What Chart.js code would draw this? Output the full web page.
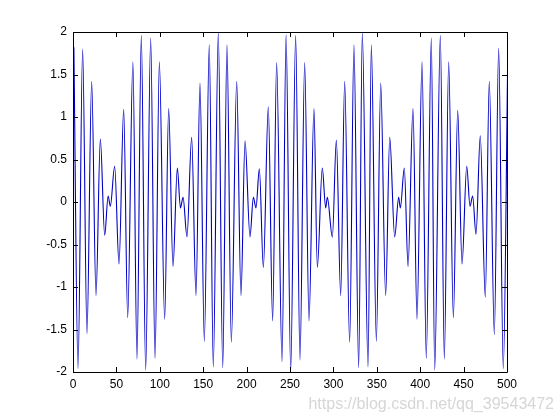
<!DOCTYPE html>
<html>
<head>
<meta charset="utf-8">
<script src="https://cdn.jsdelivr.net/npm/chart.js@4"></script>
<style>
  html, body { margin: 0; padding: 0; background: #fff; }
</style>
</head>
<body>
<canvas id="chart" width="560" height="420"></canvas>
<script>
// turning points of the trace
const turnX = [1, 5.8, 11.1, 16.1, 21.5, 26.5, 31.5, 36.5, 40.5, 43,
  48, 53, 58.4, 63, 69, 73.7, 78.7, 83.7, 89.5, 94.5,
  99.5, 105.6, 110.2, 115.2, 120.2, 123.8, 126.8, 131.3, 136.7, 141.7,
  146.3, 151.3, 157, 161.6, 167.4, 172.5, 177.4, 182.4, 188.6, 193.5,
  198.2, 203.9, 207.8, 210.8, 214.7, 219.3, 225, 230, 234.6, 240.8,
  245.5, 250.8, 256.5, 261.5, 266.9, 271.9, 277.6, 281.5, 287.2, 291.1,
  293, 298.8, 303.4, 308.4, 313, 318.7, 323.7, 329.1, 333.3, 339.9,
  343.7, 349.5, 354.5, 360.2, 364.9, 370.6, 375.2, 377.1, 381.7, 386,
  391.7, 396.3, 402.1, 407, 412.8, 416.7, 423.2, 427.8, 432.8, 438.2,
  443.2, 448.2, 453.6, 457.4, 460.4, 464.3, 469.2, 475, 479.6, 485.4,
  490.4, 495.7, 501];
const turnY = [1.82, -1.96, 1.80, -1.55, 1.42, -1.10, 0.74, -0.39, 0.07, -0.05,
  0.42, -0.73, 1.09, -1.36, 1.65, -1.85, 1.96, -1.98, 1.93, -1.84,
  1.65, -1.38, 1.10, -0.76, 0.40, -0.07, 0.055, -0.41, 0.76, -1.10,
  1.40, -1.64, 1.85, -1.94, 1.99, -1.95, 1.85, -1.65, 1.42, -1.10,
  0.72, -0.41, 0.055, -0.07, 0.39, -0.77, 1.12, -1.40, 1.64, -1.88,
  1.97, -1.99, 1.96, -1.86, 1.64, -1.40, 1.10, -0.77, 0.40, -0.07,
  0.055, -0.41, 0.73, -1.10, 1.42, -1.65, 1.85, -1.95, 1.99, -1.94,
  1.85, -1.64, 1.40, -1.10, 0.76, -0.41, 0.055, -0.07, 0.40, -0.76,
  1.10, -1.38, 1.65, -1.84, 1.93, -1.98, 1.96, -1.85, 1.65, -1.36,
  1.08, -0.73, 0.42, -0.05, 0.07, -0.38, 0.78, -1.12, 1.42, -1.56,
  1.81, -1.96, 1.82];

const xTicks = [0, 50, 100, 150, 200, 250, 300, 350, 400, 450, 500];
const yTicks = [-2, -1.5, -1, -0.5, 0, 0.5, 1, 1.5, 2];

const watermark = 'https://blog.csdn.net/qq_39543472';

let points = turnX.map((x, i) => ({ x: x, y: turnY[i] }));

// matlab style box with inward ticks on all four sides
const boxPlugin = {
  id: 'box',
  afterDraw(chart) {
    const ctx = chart.ctx;
    const a = chart.chartArea;
    const sx = chart.scales.x, sy = chart.scales.y;
    const len = 5;
    ctx.save();
    ctx.strokeStyle = '#000';
    ctx.lineWidth = 1;
    ctx.beginPath();
    ctx.rect(Math.round(a.left) + 0.5, Math.round(a.top) + 0.5,
      Math.round(a.right - a.left), Math.round(a.bottom - a.top));
    xTicks.forEach(v => {
      const px = Math.round(sx.getPixelForValue(v)) + 0.5;
      ctx.moveTo(px, a.bottom); ctx.lineTo(px, a.bottom - len);
      ctx.moveTo(px, a.top); ctx.lineTo(px, a.top + len);
    });
    yTicks.forEach(v => {
      const py = Math.round(sy.getPixelForValue(v)) + 0.5;
      ctx.moveTo(a.left, py); ctx.lineTo(a.left + len, py);
      ctx.moveTo(a.right, py); ctx.lineTo(a.right - len, py);
    });
    ctx.stroke();

    ctx.font = '16px "Liberation Sans", Arial, sans-serif';
    ctx.fillStyle = '#d6d6d6';
    ctx.textAlign = 'right';
    ctx.textBaseline = 'alphabetic';
    ctx.fillText(watermark, 554, 409);
    ctx.restore();
  }
};

const tickFont = { family: '"Liberation Sans", Arial, sans-serif', size: 12 };

new Chart(document.getElementById('chart').getContext('2d'), {
  type: 'line',
  data: {
    datasets: [{
      data: points,
      borderColor: '#0000c4',
      borderWidth: 1.1,
      pointRadius: 0,
      cubicInterpolationMode: 'monotone',
      fill: false
    }]
  },
  options: {
    responsive: false,
    animation: false,
    layout: { padding: { left: 0, top: 32, right: 53, bottom: 0 } },
    plugins: { legend: { display: false }, tooltip: { enabled: false } },
    scales: {
      x: {
        type: 'linear',
        min: 0,
        max: 500,
        grid: { display: false, drawTicks: false },
        border: { display: false },
        afterBuildTicks: s => { s.ticks = xTicks.map(v => ({ value: v })); },
        afterFit: s => { s.height = 48; },
        ticks: { color: '#000', font: tickFont, padding: 5, maxRotation: 0,
          callback: v => String(v) }
      },
      y: {
        min: -2,
        max: 2,
        grid: { display: false, drawTicks: false },
        border: { display: false },
        afterBuildTicks: s => { s.ticks = yTicks.map(v => ({ value: v })); },
        afterFit: s => { s.width = 73; },
        ticks: { color: '#000', font: tickFont, padding: 6,
          callback: v => String(v) }
      }
    }
  },
  plugins: [boxPlugin]
});
</script>
</body>
</html>
